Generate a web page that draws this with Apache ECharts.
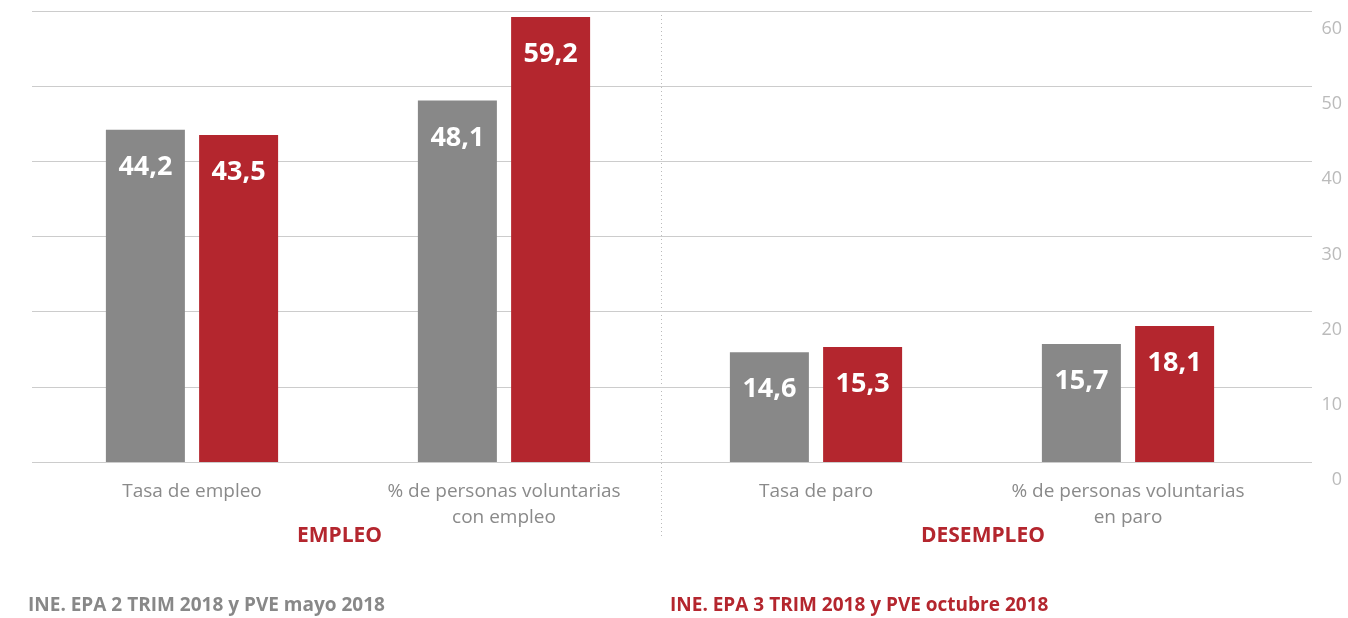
<!DOCTYPE html>
<html>
<head>
<meta charset="utf-8">
<script src="https://cdn.jsdelivr.net/npm/echarts@6/dist/echarts.min.js"></script>
<style>
  html, body { margin: 0; padding: 0; background: #fff; }
  #chart { width: 1348px; height: 618px; }
</style>
</head>
<body>
<div id="chart"></div>
<script>
// categorias y valores
var categories = [
    "Tasa de empleo",
    "% de personas voluntarias\ncon empleo",
    "Tasa de paro",
    "% de personas voluntarias\nen paro"
];
var seriesNames = [
    "INE. EPA 2 TRIM 2018 y PVE mayo 2018",
    "INE. EPA 3 TRIM 2018 y PVE octubre 2018"
];
var valuesFirst = [44.2, 48.1, 14.6, 15.7];
var valuesSecond = [43.5, 59.2, 15.3, 18.1];
var groupNames = ["EMPLEO", "DESEMPLEO"];
var yTicks = [0, 10, 20, 30, 40, 50, 60];

(function () {
    var myChart = echarts.init(document.getElementById("chart"));
    var fontFamily = "'Open Sans', sans-serif";
    var gray = "#888888";
    var red = "#b4262e";

    function valueLabel(p) {
        return String(p.value).replace(".", ",");
    }

    var option = {
        animation: false,
        textStyle: { fontFamily: fontFamily },
        grid: [
            // grid de las barras
            { left: 36, right: 64, top: 11, bottom: 156 },
            // grid solo para las lineas de fondo (mas ancho)
            { left: 32, right: 36, top: 11, bottom: 156 }
        ],
        legend: [
            {
                data: [{ name: seriesNames[0], textStyle: { color: gray } }],
                left: 18,
                top: 591,
                itemWidth: 0,
                itemHeight: 0,
                selectedMode: false,
                textStyle: { fontSize: 19, fontWeight: "bold", fontFamily: fontFamily }
            },
            {
                data: [{ name: seriesNames[1], textStyle: { color: red } }],
                left: 660,
                top: 591,
                itemWidth: 0,
                itemHeight: 0,
                selectedMode: false,
                textStyle: { fontSize: 19, fontWeight: "bold", fontFamily: fontFamily }
            }
        ],
        xAxis: [
            {
                type: "category",
                gridIndex: 0,
                data: categories,
                axisLine: { show: false },
                axisTick: { show: false },
                axisLabel: {
                    interval: 0,
                    color: "#8a8a8a",
                    fontSize: 19,
                    lineHeight: 26,
                    margin: 17
                }
            },
            {
                type: "value",
                gridIndex: 1,
                show: false,
                min: 0,
                max: 1
            }
        ],
        yAxis: [
            {
                type: "value",
                gridIndex: 0,
                min: yTicks[0],
                max: yTicks[yTicks.length - 1],
                interval: 10,
                show: false
            },
            {
                type: "value",
                gridIndex: 1,
                position: "right",
                min: yTicks[0],
                max: yTicks[yTicks.length - 1],
                interval: 10,
                axisLine: { show: false },
                axisTick: { show: false },
                splitLine: { lineStyle: { color: "#cccccc", width: 1 } },
                axisLabel: {
                    align: "right",
                    verticalAlign: "top",
                    margin: 30,
                    padding: [9, 0, 0, 0],
                    color: "#bbbbbb",
                    fontSize: 18
                }
            }
        ],
        series: [
            {
                name: seriesNames[0],
                type: "bar",
                xAxisIndex: 0,
                yAxisIndex: 0,
                barWidth: 79,
                barGap: "18%",
                itemStyle: { color: gray },
                label: {
                    show: true,
                    position: "insideTop",
                    distance: 24,
                    color: "#fff",
                    fontSize: 27,
                    fontWeight: "bold",
                    formatter: valueLabel
                },
                data: valuesFirst
            },
            {
                name: seriesNames[1],
                type: "bar",
                xAxisIndex: 0,
                yAxisIndex: 0,
                barWidth: 79,
                barGap: "18%",
                itemStyle: { color: red },
                label: {
                    show: true,
                    position: "insideTop",
                    distance: 24,
                    color: "#fff",
                    fontSize: 27,
                    fontWeight: "bold",
                    formatter: valueLabel
                },
                data: valuesSecond
            }
        ],
        graphic: [
            // separador punteado
            {
                type: "line",
                shape: { x1: 661.5, y1: 11, x2: 661.5, y2: 537 },
                style: { stroke: "#bbbbbb", lineWidth: 1, lineDash: [1, 3] },
                silent: true
            },
            {
                type: "text",
                left: 297,
                top: 526,
                style: { text: groupNames[0], fill: red, fontSize: 21, fontWeight: "bold", fontFamily: fontFamily }
            },
            {
                type: "text",
                left: 921,
                top: 526,
                style: { text: groupNames[1], fill: red, fontSize: 21, fontWeight: "bold", fontFamily: fontFamily }
            }
        ]
    };

    myChart.setOption(option);
    window.addEventListener("resize", function () {
        myChart.resize();
    });
})();
</script>
</body>
</html>
